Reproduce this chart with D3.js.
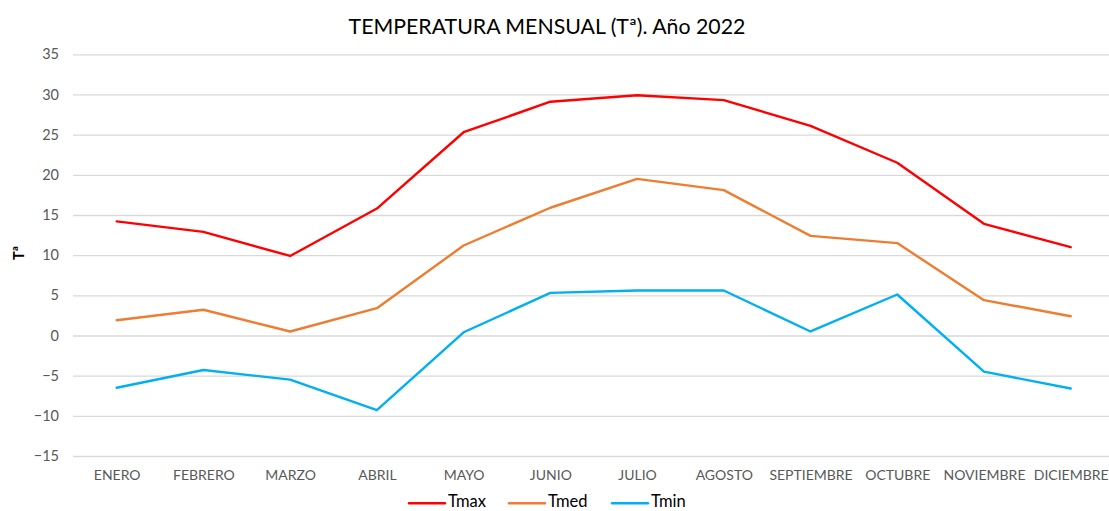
<!DOCTYPE html>
<html>
<head>
<meta charset="utf-8">
<script src="https://cdn.jsdelivr.net/npm/d3@7"></script>
<style>
  html, body { margin: 0; padding: 0; background: #fff; }
  svg { display: block; }
  text { font-family: Lato, "Open Sans", sans-serif; }
</style>
</head>
<body>
<svg id="chart" width="1109" height="511"></svg>
<script>
const months = ["ENERO","FEBRERO","MARZO","ABRIL","MAYO","JUNIO","JULIO","AGOSTO","SEPTIEMBRE","OCTUBRE","NOVIEMBRE","DICIEMBRE"];
const tmax = [14.2, 12.9, 9.9, 15.8, 25.3, 29.1, 29.9, 29.3, 26.1, 21.5, 13.9, 11.0];
const tmed = [1.9, 3.2, 0.5, 3.4, 11.2, 15.9, 19.5, 18.1, 12.4, 11.5, 4.4, 2.4];
const tmin = [-6.5, -4.3, -5.5, -9.3, 0.4, 5.3, 5.6, 5.6, 0.5, 5.1, -4.5, -6.6];
const yTicks = [-15, -10, -5, 0, 5, 10, 15, 20, 25, 30, 35];
const seriesNames = ["Tmax", "Tmed", "Tmin"];
const seriesColors = ["#FF0000", "#ED7D31", "#00B0F0"];
const title = "TEMPERATURA MENSUAL (Tª). Año 2022";
const yTitle = "Tª";

const series = [tmax, tmed, tmin];
const svg = d3.select("#chart");

const x = d3.scalePoint().domain(months).range([116.7, 1070.7]);
const y = d3.scaleLinear().domain([-15, 35]).range([456, 54.3]);

// gridlines
const yAxis = d3.axisLeft(y).tickValues(yTicks).tickSize(-(1114 - 73)).tickPadding(14).tickFormat(d3.format("d"));
const gy = svg.append("g").attr("transform", "translate(73,0)").call(yAxis);
gy.select(".domain").remove();
gy.selectAll(".tick line").attr("stroke", "#D9D9D9").attr("stroke-width", 1.3);
gy.selectAll(".tick text").attr("fill", "#595959").style("font-size", "14.5px").attr("font-family", "Lato");

// x axis labels
const xAxis = d3.axisBottom(x).tickSize(0).tickPadding(14);
const gx = svg.append("g").attr("transform", "translate(0,456)").call(xAxis);
gx.select(".domain").remove();
gx.selectAll(".tick text").attr("fill", "#595959").style("font-size", "14px").attr("font-family", "Lato");

// lines
const line = d3.line().x((d, i) => x(months[i])).y(d => y(d));
svg.append("g").selectAll("path").data(series).join("path")
  .attr("d", d => line(d))
  .attr("fill", "none")
  .attr("stroke", (d, i) => seriesColors[i])
  .attr("stroke-width", 2.4)
  .attr("stroke-linejoin", "round")
  .attr("stroke-linecap", "round");

// title
svg.append("text").attr("x", 547).attr("y", 33.5).attr("text-anchor", "middle")
  .attr("fill", "#000").style("font-size", "21.3px").text(title);

// y axis title
svg.append("text").attr("transform", "translate(24,253) rotate(-90)").attr("text-anchor", "middle")
  .attr("fill", "#000").style("font-size", "14.5px").style("font-weight", "bold").text(yTitle);

// legend
const legendX = [409, 509, 612];
const lg = svg.append("g").selectAll("g").data(seriesNames).join("g")
  .attr("transform", (d, i) => `translate(${legendX[i]},503.3)`);
lg.append("line").attr("x1", 0).attr("x2", 36).attr("y1", 0).attr("y2", 0)
  .attr("stroke", (d, i) => seriesColors[i]).attr("stroke-width", 2.4).attr("stroke-linecap", "round");
lg.append("text").attr("x", 39).attr("y", 4).attr("fill", "#000").style("font-size", "16.5px").text(d => d);
</script>
</body>
</html>
